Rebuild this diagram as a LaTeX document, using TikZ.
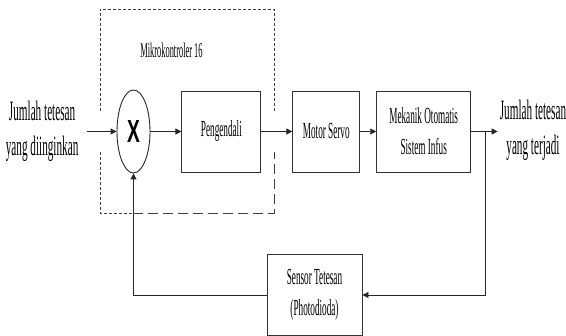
\documentclass[tikz,border=0pt]{standalone}
\usepackage{fontspec}
\setmainfont{Liberation Serif}
\newfontfamily\narrowfont[FakeStretch=0.4]{Liberation Serif}
\newfontfamily\narrowsans[FakeStretch=0.6]{Liberation Sans}
\usepackage{tikz}
\usetikzlibrary{arrows.meta, positioning, shapes.geometric}

\begin{document}
\begin{tikzpicture}[
        x=1pt, y=-1pt,
        >={Triangle[length=6pt, width=6pt]},
        every node/.style={font=\narrowfont},
        block/.style={draw=black!80, line width=0.9pt, inner sep=0pt, minimum height=81pt, align=center, font=\narrowfont\fontsize{23}{31}\selectfont},
        sumnode/.style={draw=black!85, line width=0.9pt, ellipse, inner sep=0pt, minimum width=33pt, minimum height=83pt},
        sig/.style={inner sep=0pt, align=center, font=\narrowfont\fontsize{28}{35}\selectfont},
        arr/.style={->, draw=black!85, line width=0.9pt},
        frame/.style={draw=black!75, line width=0.8pt, dash pattern=on 3pt off 2pt},
        framelong/.style={draw=black!75, line width=0.9pt, dash pattern=on 10pt off 5pt},
    ]
    \useasboundingbox (0,0) rectangle (566,336);

    %% ===== Forward path =====
    \node[sumnode] (mult) at (133.5,131.5) {\narrowsans\bfseries\fontsize{32}{32}\selectfont X};
    \node[block, right=31pt of mult, minimum width=79pt] (ctrl) {Pengendali};
    \node[block, right=31pt of ctrl, minimum width=67pt] (servo) {Motor Servo};
    \node[block, right=16pt of servo, minimum width=94pt] (mech) {Mekanik Otomatis\\Sistem Infus};

    \draw[arr] (mult) -- (ctrl);
    \draw[arr] (ctrl) -- (servo);
    \draw[arr] (servo) -- (mech);

    %% ===== Signals =====
    \node[sig, left=38pt of mult] (setp) {Jumlah tetesan\\yang diinginkan};
    \node[sig] (out) at (533,130) {Jumlah tetesan\\yang terjadi};
    \draw[arr] ([xshift=8pt]setp.east) -- (mult);
    \draw[arr] (mech) -- ([xshift=-2pt]out.west |- mech.east);

    %% ===== Feedback =====
    \coordinate[right=14pt of mech.east] (split);
    \node[block, minimum width=95pt] (sensor) at (314.5,295) {Sensor Tetesan\\(Photodioda)};
    \draw[arr] (split) |- (sensor.east);
    \draw[arr] (sensor.west) -| (mult.south);

    %% ===== Microcontroller frame =====
    \node[font=\narrowfont\fontsize{21}{21}\selectfont] (mcu) at (171.5,50) {Mikrokontroler 16};
    \draw[frame] (100,111) -- (100,9) -- (274,9) -- (274,112);
    \draw[frame] (100,152) -- (100,213) -- (133,213);
    \draw[framelong] (133,213) -- (274,213) -- (274,152);

\end{tikzpicture}
\end{document}
